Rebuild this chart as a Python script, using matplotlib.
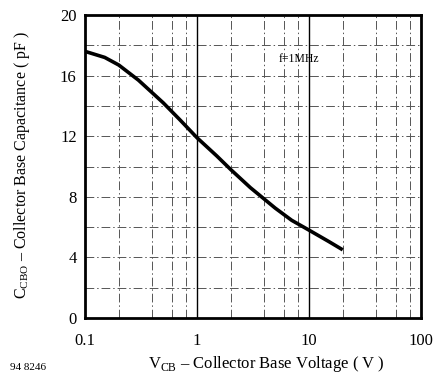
import matplotlib
matplotlib.use("Agg")
import matplotlib.pyplot as plt

# Data
vcb = [0.1, 0.15, 0.2, 0.3, 0.5, 0.7, 1.0, 1.5, 2.0, 3.0, 5.0, 7.0, 10.0, 15.0, 20.0]
ccbo = [17.6, 17.2, 16.7, 15.7, 14.2, 13.1, 11.9, 10.7, 9.8, 8.6, 7.25, 6.45, 5.8, 5.05, 4.5]
x_ticks = [0.1, 1, 10, 100]
x_ticklabels = ["0.1", "1", "10", "100"]
y_ticks = [0, 4, 8, 12, 16, 20]
minor_x = [0.2, 0.4, 0.6, 0.8, 2, 4, 6, 8, 20, 40, 60, 80]
minor_y = [2, 4, 6, 8, 10, 12, 14, 16, 18]

plt.rcParams['font.family'] = ['Liberation Serif', 'DejaVu Serif']
plt.rcParams['mathtext.fontset'] = 'custom'
plt.rcParams['mathtext.rm'] = 'Liberation Serif'

fig = plt.figure(figsize=(4.36, 3.77), dpi=100)
ax = fig.add_axes([85/436, 1-318/377, 336/436, 303/377])
ax.set_xscale('log')
ax.set_xlim(0.1, 100)
ax.set_ylim(0, 20)

dash = (0, (9, 3, 1.5, 3))
for v in minor_x:
    ax.axvline(v, color='#555555', lw=0.7, ls=dash, zorder=1)
for v in minor_y:
    ax.axhline(v, color='#555555', lw=0.7, ls=dash, zorder=1)
for v in [1, 10]:
    ax.axvline(v, color='black', lw=1.0, zorder=1)

ax.plot(vcb, ccbo, color='black', lw=2.6, solid_capstyle='butt', zorder=3)

ax.set_xticks(x_ticks)
ax.set_xticklabels(x_ticklabels)
ax.xaxis.set_minor_locator(matplotlib.ticker.NullLocator())
ax.set_yticks(y_ticks)
ax.tick_params(length=0, labelsize=12)
ax.tick_params(axis='x', pad=11)
ax.tick_params(axis='y', pad=6)
for s in ax.spines.values():
    s.set_linewidth(2)

ax.text(8.1, 17.1, "f=1MHz", fontsize=8.5, ha='center', va='center')

fig.text(22/436, 1-165/377, r"C$_{\mathrm{CBO}}$ – Collector Base Capacitance ( pF )",
         rotation=90, ha='center', va='center', fontsize=11.5)
fig.text(266/436, 1-364/377, r"V$_{\mathrm{CB}}$ – Collector Base Voltage ( V )",
         ha='center', va='center', fontsize=12)
fig.text(10/436, 1-368/377, "94 8246", ha='left', va='center', fontsize=8)

fig.savefig("out.png", dpi=100)
